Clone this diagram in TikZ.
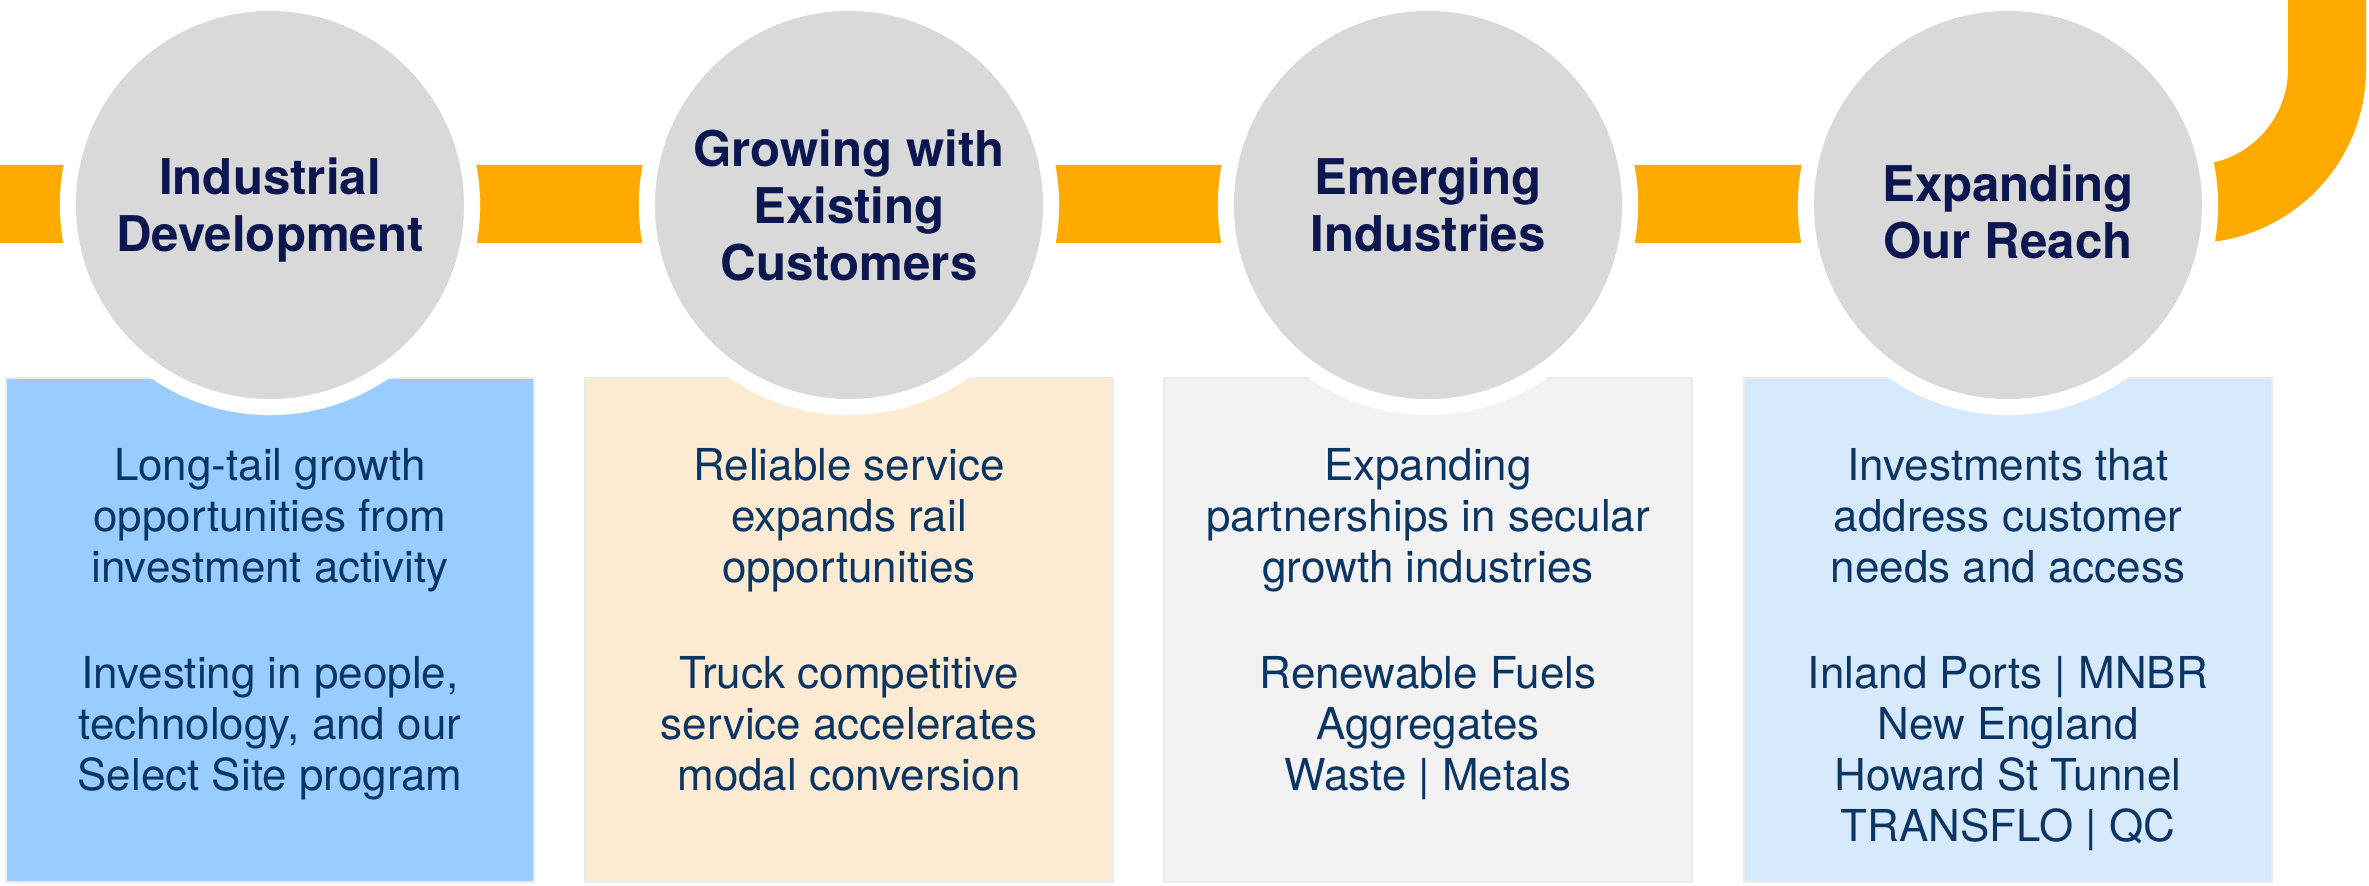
\documentclass[tikz,border=0pt]{standalone}
\usepackage{fontspec}
\setmainfont{TeX Gyre Heros}
\usetikzlibrary{positioning}

\definecolor{railorange}{HTML}{FFAA00}
\definecolor{stopgray}{HTML}{D9D9D9}
\definecolor{titlenavy}{HTML}{0C164F}
\definecolor{bodynavy}{HTML}{0B3563}
\definecolor{boxblue}{HTML}{99CCFF}
\definecolor{boxcream}{HTML}{FCEBD2}
\definecolor{boxgray}{HTML}{F2F2F2}
\definecolor{boxpale}{HTML}{D7E9FC}

\begin{document}
\begin{tikzpicture}[x=0.01cm, y=-0.01cm,
  railbar/.style={draw=railorange, line width=0.78cm, rounded corners=1.35cm},
  stop/.style={circle, fill=stopgray, draw=white, line width=0.16cm, minimum size=4.04cm, inner sep=0pt, align=center, text=titlenavy, font=\fontsize{14}{16.2}\selectfont\bfseries},
  panel/.style={rectangle, draw=black!8, line width=0.6pt, minimum width=5.27cm, minimum height=5.03cm, inner sep=0pt},
  blurb/.style={align=center, inner sep=0pt, text=bodynavy, font=\fontsize{12.5}{14.5}\selectfont}]

\useasboundingbox (0,0) rectangle (2369,886);

\coordinate (railstart) at (0,204);
\coordinate (railend) at (2327,0);
\draw[railbar] (railstart) -| (railend);

\node[panel, fill=boxblue] (b1) at (270,630) {};
\node[panel, fill=boxcream] (b2) at (849,630) {};
\node[panel, fill=boxgray] (b3) at (1428,630) {};
\node[panel, fill=boxpale] (b4) at (2008,630) {};

\node[stop, text depth=0pt] (c1) at (270,205) {Industrial\\Development};
\node[stop] (c2) at (849,205) {Growing with\\Existing\\Customers};
\node[stop] (c3) at (1428,205) {Emerging\\Industries};
\node[stop, text height=30.3pt, text depth=0pt] (c4) at (2008,205) {Expanding\\Our Reach};

\node[blurb, below=0.70cm of b1.north] (t1) {Long-tail growth\\opportunities from\\investment activity\\[15.8pt]Investing in people,\\technology, and our\\Select Site program};
\node[blurb, below=0.70cm of b2.north] (t2) {Reliable service\\expands rail\\opportunities\\[15.8pt]Truck competitive\\service accelerates\\modal conversion};
\node[blurb, below=0.70cm of b3.north] (t3) {Expanding\\partnerships in secular\\growth industries\\[15.8pt]Renewable Fuels\\Aggregates\\Waste | Metals};
\node[blurb, below=0.70cm of b4.north] (t4) {Investments that\\address customer\\needs and access\\[15.8pt]Inland Ports | MNBR\\New England\\Howard St Tunnel\\TRANSFLO | QC};

\end{tikzpicture}
\end{document}
